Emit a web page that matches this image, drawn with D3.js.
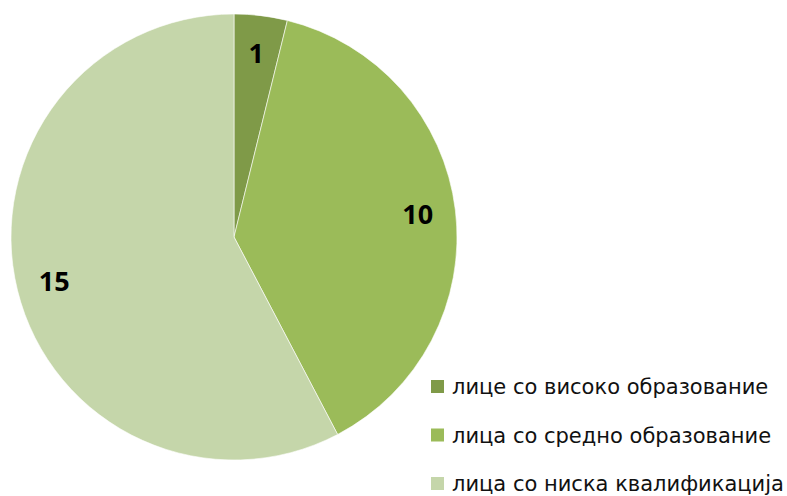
<!DOCTYPE html>
<html>
<head>
<meta charset="utf-8">
<script src="https://cdn.jsdelivr.net/npm/d3@7"></script>
<style>
  body { margin: 0; background: #fff; }
  text { font-family: "Open Sans", sans-serif; }
</style>
</head>
<body>
<svg width="787" height="496"></svg>
<script>
var categories = ['лице со високо образование', 'лица со средно образование', 'лица со ниска квалификација'];
var values = [1, 10, 15];
var colors = ['#7f9a48', '#9bbb59', '#c5d6aa'];

var svg = d3.select('svg');
var cx = 234, cy = 237, radius = 223;

var pie = d3.pie().sort(null).value(function(d){ return d; });
var arcs = pie(values);
var arc = d3.arc().innerRadius(0).outerRadius(radius);
var labelArc = d3.arc().innerRadius(radius * 0.83).outerRadius(radius * 0.83);

var g = svg.append('g').attr('transform', 'translate(' + cx + ',' + cy + ')');

g.selectAll('path')
    .data(arcs)
    .enter().append('path')
    .attr('d', arc)
    .style('fill', function(d, i){ return colors[i]; })
    .style('stroke', '#ffffff')
    .style('stroke-width', 0.6);

g.selectAll('text.lbl')
    .data(arcs)
    .enter().append('text')
    .attr('class', 'lbl')
    .attr('transform', function(d){ return 'translate(' + labelArc.centroid(d) + ')'; })
    .attr('text-anchor', 'middle')
    .attr('dy', '0.36em')
    .style('font-size', '27px')
    .style('font-weight', 'bold')
    .text(function(d){ return d.data; });

// legend
var legendY = d3.scalePoint().domain(categories).range([387, 484]);
var legend = svg.selectAll('g.legend')
    .data(categories)
    .enter().append('g')
    .attr('class', 'legend')
    .attr('transform', function(d){ return 'translate(431,' + legendY(d) + ')'; });

legend.append('rect')
    .attr('x', 0).attr('y', -7)
    .attr('width', 13).attr('height', 13)
    .style('fill', function(d, i){ return colors[i]; });

legend.append('text')
    .attr('x', 21)
    .attr('dy', '0.35em')
    .style('font-family', '"DejaVu Sans", sans-serif')
    .style('font-size', '21px')
    .style('fill', '#111')
    .text(function(d){ return d; });
</script>
</body>
</html>
